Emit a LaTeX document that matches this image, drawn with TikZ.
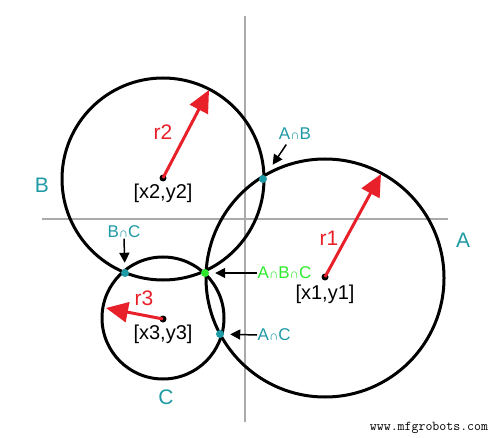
\documentclass[tikz,border=0pt]{standalone}
\usepackage{fontspec}
\setmainfont{Liberation Sans}
\usetikzlibrary{arrows.meta,positioning}

\definecolor{setteal}{HTML}{1E9AA5}
\definecolor{setgreen}{HTML}{2EEA2E}
\definecolor{radred}{HTML}{E8202A}
\definecolor{axisgray}{HTML}{AAAAAA}

\newcommand{\cutsym}{{\fontsize{13}{15}\selectfont ∩}}

\begin{document}
\begin{tikzpicture}[x=1pt,y=-1pt,
  setcircle/.style={draw=black, line width=3pt},
  centre/.style={circle, fill=black, inner sep=0pt, minimum size=7pt},
  cut/.style={circle, fill=setteal, inner sep=0pt, minimum size=8pt},
  radius arrow/.style={draw=radred, line width=3pt, -{Triangle[length=22pt,width=20pt]}},
  ptr/.style={draw=black, line width=1.5pt, -{Triangle[length=10pt,width=10pt]}, shorten >=6pt},
  setname/.style={text=setteal, font=\fontsize{21}{24}\selectfont},
  cutname/.style={text=setteal, font=\fontsize{17}{20}\selectfont, inner sep=0.5pt},
  radname/.style={text=radred, font=\fontsize{21}{24}\selectfont},
  coordname/.style={font=\fontsize{20}{22}\selectfont, inner sep=0.5pt}]

\useasboundingbox (0,0) rectangle (500,438);

% axes
\draw[axisgray, line width=1.5pt] (245,16) -- (245,422);
\draw[axisgray, line width=1.5pt] (42,219) -- (448,219);

% sets
\draw[setcircle] (325,278) circle[radius=119];
\draw[setcircle] (163,179) circle[radius=101];
\draw[setcircle] (163,318) circle[radius=61];

\node[centre] (cA) at (325,277) {};
\node[centre] (cB) at (163,178) {};
\node[centre] (cC) at (163,319) {};

\coordinate (rA) at (381,174);
\coordinate (rB) at (209,90);
\coordinate (rC) at (106,308);

\draw[radius arrow] (cA.center) -- (rA);
\draw[radius arrow] (cB.center) -- (rB);
\draw[radius arrow] (cC.center) -- (rC);

\node[radname] at (329,238) {r1};
\node[radname] at (163,132) {r2};
\node[radname] at (144,298) {r3};

\node[coordname, below=4pt of cA] {[x1,y1]};
\node[coordname, below=2pt of cB] {[x2,y2]};
\node[coordname, below=2pt of cC] {[x3,y3]};

\node[setname] at (463,240) {A};
\node[setname] at (42,185) {B};
\node[setname] at (166,397) {C};

% intersections
\node[cut] (pAB) at (263,179) {};
\node[cut] (pBC) at (125,273) {};
\node[cut] (pAC) at (220,334) {};
\node[cut, fill=setgreen] (pABC) at (205,273) {};

\node[cutname] (lAB) at (295,134) {A\cutsym B};
\node[cutname] (lBC) at (124,232) {B\cutsym C};
\node[cutname, anchor=west] (lAC) at (257,335) {A\cutsym C};
\node[cutname, anchor=west, text=setgreen] (lABC) at (257,273) {A\cutsym B\cutsym C};

\draw[ptr, shorten >=13pt] ([xshift=8pt,yshift=-4pt]lAB.south west) -- (pAB);
\draw[ptr] (lBC.south) -- (pBC);
\draw[ptr] (lAC.west) -- (pAC);
\draw[ptr] (lABC.west) -- (pABC);

\node[font=\ttfamily\fontsize{13.5}{15}\selectfont] at (429,428) {www.mfgrobots.com};
\end{tikzpicture}
\end{document}
